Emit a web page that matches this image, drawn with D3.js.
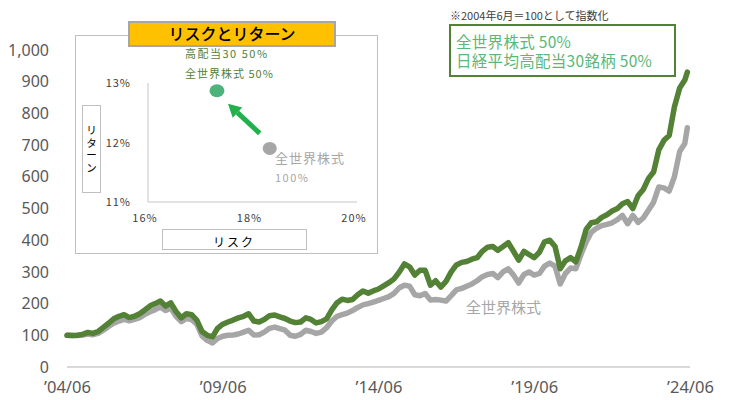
<!DOCTYPE html>
<html><head><meta charset="utf-8">
<script src="https://cdnjs.cloudflare.com/ajax/libs/d3/7.8.5/d3.min.js"></script>
<style>
html,body{margin:0;padding:0;background:#fff;}
svg{display:block;}
text{font-family:"Noto Sans","Noto Sans CJK JP",sans-serif;}
.jp{font-family:"Noto Sans CJK JP",sans-serif;}
</style></head>
<body>
<svg id="c" width="740" height="400"></svg>
<script>
// ---- data ----
const months = ["2004-06","2004-08","2004-10","2004-12","2005-02","2005-04","2005-06","2005-08","2005-10","2005-12",
"2006-02","2006-04","2006-06","2006-08","2006-10","2006-12","2007-02","2007-04","2007-06","2007-08","2007-10","2007-12",
"2008-02","2008-04","2008-06","2008-08","2008-10","2008-12","2009-02","2009-04","2009-06","2009-08","2009-10","2009-12",
"2010-02","2010-04","2010-06","2010-08","2010-10","2010-12","2011-02","2011-04","2011-06","2011-08","2011-10","2011-12",
"2012-02","2012-04","2012-06","2012-08","2012-10","2012-12","2013-02","2013-04","2013-06","2013-08","2013-10","2013-12",
"2014-02","2014-04","2014-06","2014-08","2014-10","2014-12","2015-02","2015-04","2015-06","2015-08","2015-10","2015-12",
"2016-02","2016-04","2016-06","2016-08","2016-10","2016-12","2017-02","2017-04","2017-06","2017-08","2017-10","2017-12",
"2018-02","2018-04","2018-06","2018-08","2018-10","2018-12","2019-02","2019-04","2019-06","2019-08","2019-10","2019-12",
"2020-02","2020-04","2020-06","2020-08","2020-10","2020-12","2021-02","2021-04","2021-06","2021-08","2021-10","2021-12",
"2022-02","2022-04","2022-06","2022-08","2022-10","2022-12","2023-02","2023-04","2023-06","2023-08","2023-10","2023-12",
"2024-02","2024-04","2024-05"];

const combo = [100,99,100,103,109,106,112,125,138,152,
160,165,156,160,168,180,193,200,208,192,202,175,
155,168,165,148,112,100,95,122,135,142,148,155,
160,168,145,142,150,162,164,158,153,145,140,142,
155,150,139,143,152,180,203,214,210,213,228,240,
233,240,246,256,266,278,300,325,316,290,305,305,
258,272,252,270,300,322,330,333,340,345,365,378,
380,368,380,392,365,337,365,355,345,362,395,400,
380,310,335,345,332,378,435,455,458,472,480,492,
500,515,522,500,540,560,595,615,685,715,730,820,
880,905,930];

const world = [100,99,99,101,104,102,106,116,128,138,
145,150,146,150,156,166,174,181,190,178,186,160,
143,153,150,135,98,84,76,90,97,100,101,104,
110,116,101,102,110,122,126,121,116,100,97,103,
116,112,106,110,124,145,160,165,170,178,188,196,
200,205,210,216,222,232,250,258,255,228,225,232,
211,213,211,208,225,243,248,255,262,272,285,292,
295,282,300,310,290,265,292,300,290,295,318,328,
318,262,295,312,310,355,395,425,438,446,450,455,
465,478,452,478,456,470,495,520,568,565,555,600,
680,705,755];

const yTicks = [0,100,200,300,400,500,600,700,800,900,1000];
const xTicks = ["2004-06","2009-06","2014-06","2019-06","2024-06"];
const xTickLabels = ["’04/06","’09/06","’14/06","’19/06","’24/06"];

// inset scatter data
const riskTicks = [16,18,20];
const retTicks = [11,12,13];
const scatterRisk = [17.32, 18.33];
const scatterRet = [12.87, 11.90];

// ---- drawing ----
const svg = d3.select("#c");
const parse = d3.timeParse("%Y-%m");
const dates = months.map(parse);

const x = d3.scaleTime().domain([parse("2004-06"), parse("2024-06")]).range([67, 690]);
const y = d3.scaleLinear().domain([0, 1000]).range([367, 50]);

// baseline
svg.append("line").attr("x1", x.range()[0]).attr("x2", x.range()[1]).attr("y1", y(0)).attr("y2", y(0))
  .attr("stroke", "#d9d9d9").attr("stroke-width", 2);

// y axis labels
const yAxis = d3.axisLeft(y).tickValues(yTicks).tickSize(0).tickPadding(0)
  .tickFormat(d3.format(","));
const gy = svg.append("g").attr("transform", "translate(49,0)").call(yAxis);
gy.select(".domain").remove();
gy.selectAll("text").attr("fill", "#595959").style("font-size", "16px")
  .style("font-family", "'Noto Sans',sans-serif");

// x axis labels
const xAxis = d3.axisBottom(x).tickValues(xTicks.map(parse)).tickSize(0).tickPadding(0)
  .tickFormat((d, i) => xTickLabels[i]);
const gx = svg.append("g").attr("transform", "translate(0,381)").call(xAxis);
gx.select(".domain").remove();
gx.selectAll("text").attr("fill", "#595959").style("font-size", "16.5px")
  .style("font-family", "'Noto Sans',sans-serif");

// lines
const line = d3.line().x((d, i) => x(dates[i])).y(d => y(d));
svg.append("path").datum(world).attr("d", line).attr("fill", "none")
  .attr("stroke", "#a6a6a6").attr("stroke-width", 5.5).attr("stroke-linejoin", "round").attr("stroke-linecap", "round");
svg.append("path").datum(combo).attr("d", line).attr("fill", "none")
  .attr("stroke", "#538135").attr("stroke-width", 5.5).attr("stroke-linejoin", "round").attr("stroke-linecap", "round");

// series label
svg.append("text").attr("class", "jp").attr("x", 466).attr("y", 313)
  .attr("fill", "#a6a6a6").style("font-size", "15px").text("全世界株式");

// note
svg.append("text").attr("class", "jp").attr("x", 450).attr("y", 20)
  .attr("fill", "#404040").style("font-size", "11px").text("※2004年6月＝100として指数化");

// legend box
svg.append("rect").attr("x", 450).attr("y", 25).attr("width", 225).attr("height", 51)
  .attr("fill", "#fff").attr("stroke", "#538135").attr("stroke-width", 2);
svg.append("text").attr("class", "jp").attr("x", 456).attr("y", 48)
  .attr("fill", "#5ab877").style("font-size", "15.5px").style("letter-spacing", "0.3px").text("全世界株式  50%");
svg.append("text").attr("class", "jp").attr("x", 456).attr("y", 67)
  .attr("fill", "#5ab877").style("font-size", "15.5px").style("letter-spacing", "0.3px").text("日経平均高配当30銘柄  50%");

// ---- inset ----
const inset = svg.append("g");
inset.append("rect").attr("x", 75.5).attr("y", 35.5).attr("width", 302).attr("height", 218)
  .attr("fill", "#fff").attr("stroke", "#bfbfbf").attr("stroke-width", 1);
inset.append("rect").attr("x", 129).attr("y", 22).attr("width", 206).attr("height", 24)
  .attr("fill", "#ffc000").attr("stroke", "#a6a6a6").attr("stroke-width", 2);
inset.append("text").attr("class", "jp").attr("x", 232).attr("y", 40).attr("text-anchor", "middle")
  .attr("fill", "#000").style("font-size", "16px").style("font-weight", "500").text("リスクとリターン");

const sx = d3.scaleLinear().domain([16, 20]).range([148, 357]);
const sy = d3.scaleLinear().domain([11, 13]).range([202, 83]);

inset.append("line").attr("x1", 148).attr("x2", 148).attr("y1", sy(13)).attr("y2", sy(11))
  .attr("stroke", "#d9d9d9").attr("stroke-width", 1.5);
inset.append("line").attr("x1", 148).attr("x2", sx(20)).attr("y1", sy(11)).attr("y2", sy(11))
  .attr("stroke", "#d9d9d9").attr("stroke-width", 1.5);

inset.selectAll(".rt").data(retTicks).join("text").attr("class", "jp")
  .attr("x", 131).attr("y", d => sy(d) + 4).attr("text-anchor", "end")
  .attr("fill", "#404040").style("font-size", "11px").style("letter-spacing", "1px").text(d => d + "%");
inset.selectAll(".kt").data(riskTicks).join("text").attr("class", "jp")
  .attr("x", d => sx(d) - 3).attr("y", 222).attr("text-anchor", "middle")
  .attr("fill", "#404040").style("font-size", "11px").style("letter-spacing", "1px").text(d => d + "%");

// axis title boxes
inset.append("rect").attr("x", 82.5).attr("y", 105.5).attr("width", 18).attr("height", 87)
  .attr("fill", "#fff").attr("stroke", "#bfbfbf").attr("stroke-width", 1);
["リ","タ","ー","ン"].forEach((ch, i) => {
  inset.append("text").attr("class", "jp").attr("text-anchor", "middle")
    .attr("fill", "#000").style("font-size", "10.5px")
    .attr("x", 91.5).attr("y", 134 + i * 12.5).text(ch);
});
inset.append("rect").attr("x", 162.5).attr("y", 229.5).attr("width", 144).attr("height", 20)
  .attr("fill", "#fff").attr("stroke", "#bfbfbf").attr("stroke-width", 1);
inset.append("text").attr("class", "jp").attr("x", 234).attr("y", 247).attr("text-anchor", "middle")
  .attr("fill", "#000").style("font-size", "12px").style("letter-spacing", "2px").text("リスク");

// arrow (from world point toward combo point)
const ax1 = sx(scatterRisk[1]) - 10, ay1 = sy(scatterRet[1]) - 15;
const ax2 = sx(scatterRisk[0]) + 11, ay2 = sy(scatterRet[0]) + 13;
const ang = Math.atan2(ay2 - ay1, ax2 - ax1);
const headLen = 13, headW = 7;
const bx = ax2 - headLen * Math.cos(ang), by = ay2 - headLen * Math.sin(ang);
inset.append("line").attr("x1", ax1).attr("y1", ay1).attr("x2", bx).attr("y2", by)
  .attr("stroke", "#22b14c").attr("stroke-width", 5);
inset.append("path").attr("d", d3.line()([
  [ax2, ay2],
  [bx + headW * Math.sin(ang), by - headW * Math.cos(ang)],
  [bx - headW * Math.sin(ang), by + headW * Math.cos(ang)]
])).attr("fill", "#22b14c");

// points
inset.append("ellipse").attr("cx", sx(scatterRisk[0])).attr("cy", sy(scatterRet[0])).attr("rx", 7.5).attr("ry", 6.5)
  .attr("fill", "#4cb47a");
inset.append("ellipse").attr("cx", sx(scatterRisk[1])).attr("cy", sy(scatterRet[1])).attr("rx", 7).attr("ry", 6.5)
  .attr("fill", "#a6a6a6");

// point labels
inset.append("text").attr("class", "jp").attr("x", 185).attr("y", 58)
  .attr("fill", "#538135").style("font-size", "11px").style("letter-spacing", "1.5px").text("高配当30 50%");
inset.append("text").attr("class", "jp").attr("x", 185).attr("y", 78)
  .attr("fill", "#538135").style("font-size", "11px").style("letter-spacing", "1px").text("全世界株式 50%");
inset.append("text").attr("class", "jp").attr("x", 275).attr("y", 163)
  .attr("fill", "#a6a6a6").style("font-size", "13px").style("letter-spacing", "1px").text("全世界株式");
inset.append("text").attr("class", "jp").attr("x", 275).attr("y", 182)
  .attr("fill", "#a6a6a6").style("font-size", "11px").style("letter-spacing", "1.5px").text("100%");
</script>
</body></html>
